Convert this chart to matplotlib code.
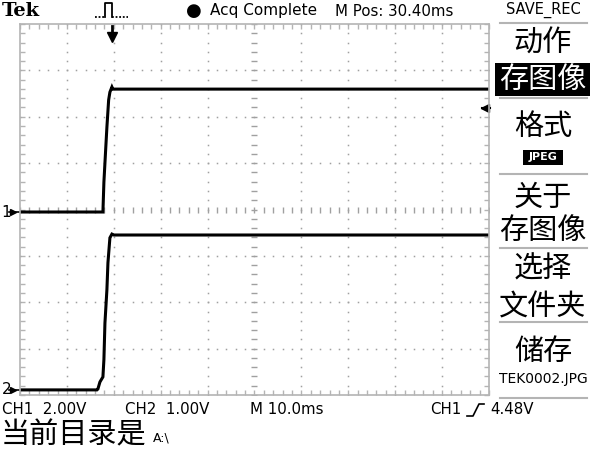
import matplotlib.pyplot as plt
import numpy as np
from matplotlib.lines import Line2D
from matplotlib.patches import Rectangle

# =========================
# データ (time in ms relative to trigger, volts)
# =========================
ch1_t = [-19.6, -1.92, -1.71, -1.34, -1.07, -0.70, -0.43, 0.0, 0.2, 80.4]
ch1_v = [0.0, 0.0, 1.29, 2.67, 3.66, 4.83, 5.17, 5.39, 5.30, 5.30]

ch2_t = [-19.6, -3.2, -2.99, -2.56, -1.92, -1.71, -1.49, -1.07, -0.85, -0.43, 0.0, 0.43, 80.4]
ch2_v = [0.0, 0.0, 0.02, 0.17, 0.28, 0.65, 1.44, 2.16, 2.74, 3.28, 3.36, 3.34, 3.34]

ch1_scale, ch2_scale = 2.0, 1.0      # V/div
ch1_pos, ch2_pos = -0.054, -3.89     # ground position, div
time_div = 10.0                      # ms/div
trig_level = 4.48                    # V

menu_items = ["动作", "存图像", "格式", "JPEG", "关于", "存图像", "选择", "文件夹", "储存", "TEK0002.JPG"]

W, H = 600, 450
fig = plt.figure(figsize=(6, 4.5), dpi=100)


def fx(x):
    return x / W


def fy(y):
    return 1 - y / H


# graticule axes
ax = fig.add_axes([fx(20), fy(395), (489 - 20) / W, (395 - 24) / H])
x0 = -19.6
ax.set_xlim(x0, x0 + 10 * time_div)
ax.set_ylim(-4, 4)
grid_col = "#a0a0a0"
for s in ax.spines.values():
    s.set_color("#b4b4b4")
    s.set_linewidth(1.2)
ax.set_xticks(np.arange(11) * time_div + x0)
ax.set_xticks(np.arange(51) * time_div / 5 + x0, minor=True)
ax.set_yticks(np.arange(-4, 5))
ax.set_yticks(np.arange(-20, 21) / 5, minor=True)
ax.tick_params(which="both", direction="in", top=True, right=True, length=3.5,
               width=1, color="#b4b4b4", labelbottom=False, labelleft=False)

# dotted grid
xs_minor = np.arange(51) * time_div / 5 + x0
ys_minor = np.arange(-20, 21) / 5
for k in range(1, 10):
    if k == 5:
        continue
    xv = x0 + k * time_div
    ax.plot(np.full_like(ys_minor, xv), ys_minor, ls="none", marker="s", ms=1.1, mew=0, color=grid_col)
for k in range(-3, 4):
    if k == 0:
        continue
    ax.plot(xs_minor, np.full_like(xs_minor, k), ls="none", marker="s", ms=1.1, mew=0, color=grid_col)
# center crosshair ticks
xc = x0 + 5 * time_div
ax.plot(xs_minor, np.zeros_like(xs_minor), ls="none", marker="|", ms=4, mew=1, color=grid_col)
ax.plot(np.full_like(ys_minor, xc), ys_minor, ls="none", marker="_", ms=4, mew=1, color=grid_col)

# traces
ax.plot(ch1_t, np.array(ch1_v) / ch1_scale + ch1_pos, color="black", lw=2.2, solid_joinstyle="miter")
ax.plot(ch2_t, np.array(ch2_v) / ch2_scale + ch2_pos, color="black", lw=2.2, solid_joinstyle="miter")

# trigger markers
ax.plot([0], [3.72], marker="v", ms=7, color="black", clip_on=False)
ax.plot([0, 0], [3.95, 3.75], color="black", lw=2, clip_on=False)
lvl = trig_level / ch1_scale + ch1_pos
ax.plot([x0 + 10 * time_div - 0.8], [lvl], marker="<", ms=6, color="black", clip_on=False)
ax.plot([x0 + 10 * time_div - 1.5, x0 + 10 * time_div + 0.2], [lvl, lvl], color="black", lw=1.5, clip_on=False)

# ground markers
for lab, pos in [("1", ch1_pos), ("2", ch2_pos)]:
    ax.plot([x0 - 1.4], [pos], marker=">", ms=5, color="black", clip_on=False)
    ax.plot([x0 - 2.4, x0], [pos, pos], color="black", lw=1.2, clip_on=False)
    y_pix = 209.5 - pos * 46.4
    fig.text(fx(1.5), fy(y_pix), lab, ha="left", va="center", fontsize=11, color="black")

# top status bar
fig.text(fx(2), fy(11), "Tek", family="DejaVu Serif", weight="bold", fontsize=14, va="center")
fig.add_artist(Line2D([fx(95), fx(105)], [fy(17), fy(17)], color="black", lw=1.3, ls=(0, (1, 1))))
fig.add_artist(Line2D([fx(112), fx(128)], [fy(17), fy(17)], color="black", lw=1.3, ls=(0, (1, 1))))
pulse_x = [105, 105, 112, 112]
pulse_y = [17, 3, 3, 17]
fig.add_artist(Line2D([fx(v) for v in pulse_x], [fy(v) for v in pulse_y], color="black", lw=1.3))
fig.text(fx(186), fy(11), "●", fontsize=13, va="center")
fig.text(fx(210), fy(11), "Acq Complete", fontsize=11, va="center")
fig.text(fx(335), fy(11), "M Pos: 30.40ms", fontsize=10.8, va="center")
fig.text(fx(543), fy(10), "SAVE_REC", fontsize=10.5, va="center", ha="center")

# bottom status bar
fig.text(fx(2), fy(410), "CH1  2.00V", fontsize=10.8, va="center")
fig.text(fx(125), fy(410), "CH2  1.00V", fontsize=10.8, va="center")
fig.text(fx(250), fy(410), "M 10.0ms", fontsize=10.8, va="center")
fig.text(fx(430), fy(410), "CH1", fontsize=10.8, va="center")
edge_x = [467, 473, 479, 484]
edge_y = [416, 416, 404, 404]
fig.add_artist(Line2D([fx(v) for v in edge_x], [fy(v) for v in edge_y], color="black", lw=1.2))
fig.text(fx(490), fy(410), "4.48V", fontsize=10.8, va="center")
fig.text(fx(1), fy(435), "当前目录是", family=["Noto Sans CJK SC"], fontsize=21, va="center")
fig.text(fx(153), fy(438), "A:\\", fontsize=9, va="center")

# right menu
for y in [23, 98, 174, 248, 322, 398]:
    fig.add_artist(Line2D([fx(500), fx(587)], [fy(y), fy(y)], color="#b4b4b4", lw=1.5))
fig.add_artist(Rectangle((fx(495), fy(96)), 95 / W, 33 / H, transform=fig.transFigure,
                         color="black", lw=0))
fig.add_artist(Rectangle((fx(523), fy(165)), 40 / W, 15 / H, transform=fig.transFigure,
                         color="black", lw=0))
menu_y = [44, 80, 127, 157, 198, 231, 270, 307, 352, 379]
for txt, y in zip(menu_items, menu_y):
    if txt == "JPEG":
        fig.text(fx(543), fy(y), txt, fontsize=8, weight="bold", color="white", ha="center", va="center")
    elif txt == "TEK0002.JPG":
        fig.text(fx(543), fy(y), txt, fontsize=10, ha="center", va="center")
    else:
        col = "white" if y == 80 else "black"
        fig.text(fx(543), fy(y), txt, family=["Noto Sans CJK SC"], fontsize=21,
                 ha="center", va="center", color=col)

plt.savefig("out.png", dpi=100)
